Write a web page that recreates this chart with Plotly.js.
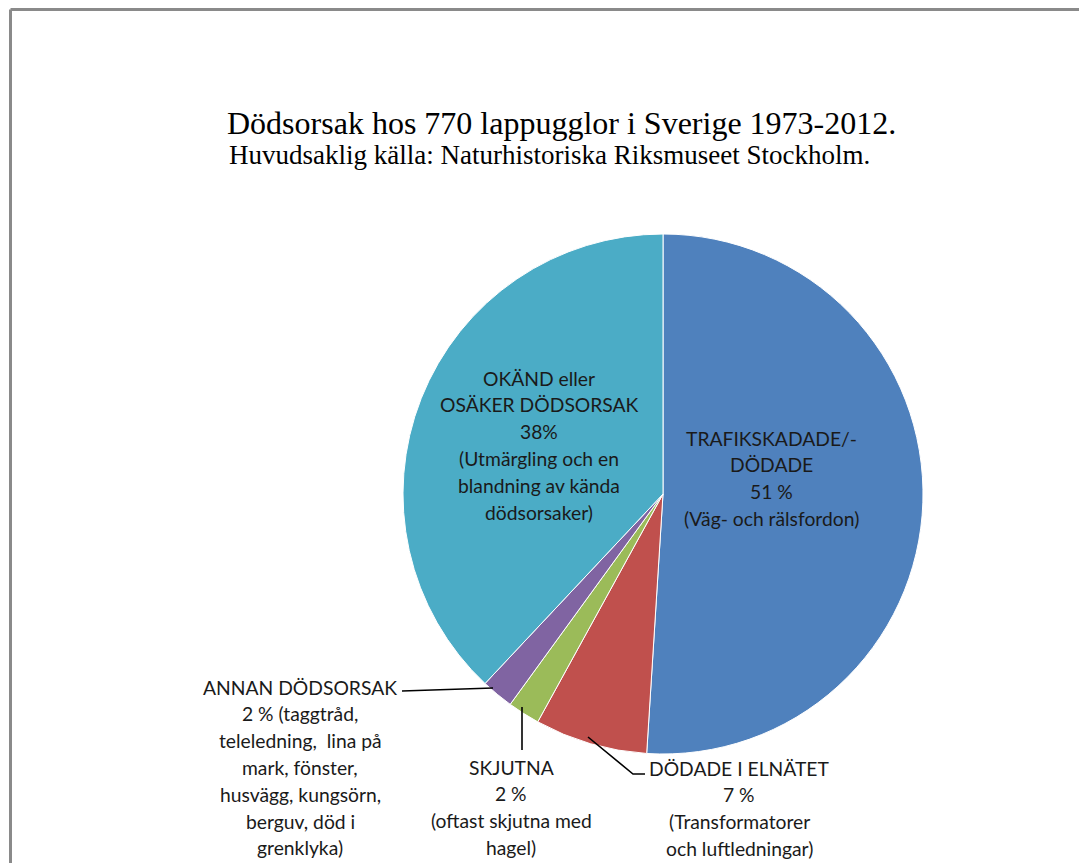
<!DOCTYPE html>
<html>
<head>
<meta charset="utf-8">
<script src="https://cdn.plot.ly/plotly-3.0.1.min.js"></script>
<style>html,body{margin:0;padding:0;background:#fff;}#chart{width:1079px;height:863px;}</style>
</head>
<body>
<div id="chart"></div>
<script>
// ---- data ----
const categories = ["TRAFIKSKADADE/-DÖDADE", "DÖDADE I ELNÄTET", "SKJUTNA", "ANNAN DÖDSORSAK", "OKÄND eller OSÄKER DÖDSORSAK"];
const values = [51, 7, 2, 2, 38];
const labelLines = [
  ["TRAFIKSKADADE/-", "DÖDADE", "{v} %", "(Väg- och rälsfordon)"],
  ["DÖDADE I ELNÄTET", "{v} %", "(Transformatorer", "och luftledningar)"],
  ["SKJUTNA", "{v} %", "(oftast skjutna med", "hagel)"],
  ["ANNAN DÖDSORSAK", "{v} % (taggtråd,", "teleledning,\u00a0 lina på", "mark, fönster,", "husvägg, kungsörn,", "berguv, död i", "grenklyka)"],
  ["OKÄND eller", "OSÄKER DÖDSORSAK", "{v}%", "(Utmärgling och en", "blandning av kända", "dödsorsaker)"]
];
const titleLine1 = "Dödsorsak hos 770 lappugglor i Sverige 1973-2012.";
const titleLine2 = "Huvudsaklig källa: Naturhistoriska Riksmuseet Stockholm.";

// ---- layout / style ----
const W = 1079, H = 863;
const px = x => x / W;
const py = y => 1 - y / H;
const colors = ["#4F81BD", "#C0504D", "#9BBB59", "#8064A2", "#4BACC6"];
const cx = 663, cy = 494, R = 260;
const labelPos = [[771, 438], [739, 768], [511, 767], [300, 687], [539, 378]];
const LS = 26.8;
const labelFont = {family: "Lato, 'Open Sans', sans-serif", size: 19.3, color: "#1a1a1a"};

const annotations = [];
labelLines.forEach((lines, i) => {
  lines.forEach((ln, j) => {
    annotations.push({
      x: px(labelPos[i][0]), y: py(labelPos[i][1] + j * LS),
      xref: "paper", yref: "paper", xanchor: "center", yanchor: "middle",
      text: ln.replace("{v}", values[i]), showarrow: false, font: labelFont
    });
  });
});
annotations.push({
  x: px(227), y: py(155), xref: "paper", yref: "paper", xanchor: "left", yanchor: "middle",
  text: titleLine2, showarrow: false,
  font: {family: "'Liberation Serif', 'Times New Roman', serif", size: 27, color: "#000"}
});

const lineStyle = {color: "#000", width: 1.6};
const shapes = [
  {type: "line", xref: "paper", yref: "paper", x0: px(10.5), y0: py(9.5), x1: 1.05, y1: py(9.5), line: {color: "#8a8a8a", width: 3}},
  {type: "line", xref: "paper", yref: "paper", x0: px(10.5), y0: py(9.5), x1: px(10.5), y1: -0.05, line: {color: "#8a8a8a", width: 3}},
  {type: "line", xref: "paper", yref: "paper", x0: px(402), y0: py(691), x1: px(493), y1: py(688), line: lineStyle},
  {type: "line", xref: "paper", yref: "paper", x0: px(522), y0: py(707), x1: px(522), y1: py(750), line: lineStyle},
  {type: "path", xref: "paper", yref: "paper",
   path: `M ${px(588)} ${py(737)} L ${px(633)} ${py(774)} L ${px(645)} ${py(774)}`, line: lineStyle}
];

const trace = {
  type: "pie",
  labels: categories,
  values: values,
  sort: false,
  direction: "clockwise",
  rotation: 0,
  textinfo: "none",
  hoverinfo: "label+percent",
  marker: {colors: colors, line: {color: "#ffffff", width: 1}},
  domain: {x: [px(cx - R), px(cx + R)], y: [py(cy + R), py(cy - R)]},
  showlegend: false
};

const layout = {
  width: W, height: H,
  margin: {l: 0, r: 0, t: 0, b: 0},
  paper_bgcolor: "#ffffff",
  showlegend: false,
  title: {
    text: titleLine1, xref: "paper", yref: "paper", x: px(227), xanchor: "left",
    y: py(123), yanchor: "middle",
    font: {family: "'Liberation Serif', 'Times New Roman', serif", size: 32, color: "#000"}
  },
  annotations: annotations,
  shapes: shapes
};

Plotly.newPlot("chart", [trace], layout, {displayModeBar: false, staticPlot: true});
</script>
</body>
</html>
